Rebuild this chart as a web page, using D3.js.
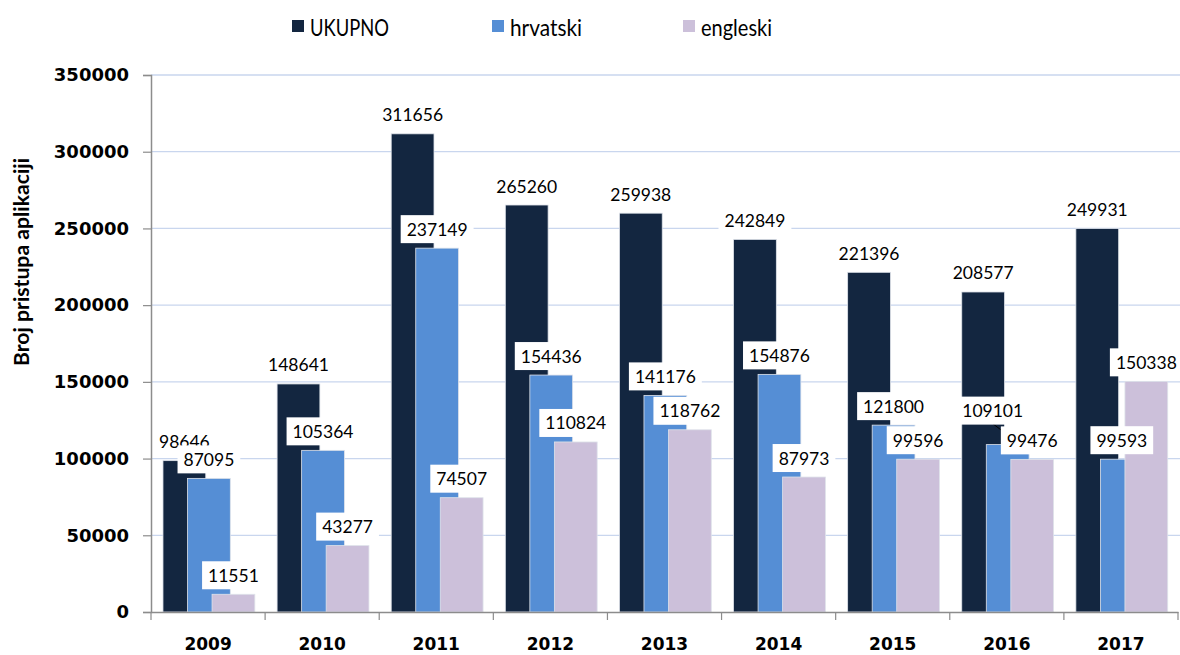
<!DOCTYPE html>
<html>
<head>
<meta charset="utf-8">
<script src="https://cdn.jsdelivr.net/npm/d3@7"></script>
<style>
  body { margin: 0; background: #fff; }
  svg { display: block; }
</style>
</head>
<body>
<div id="chart"></div>
<script>
const years = ["2009", "2010", "2011", "2012", "2013", "2014", "2015", "2016", "2017"];
const seriesNames = ["UKUPNO", "hrvatski", "engleski"];
const ukupno = [98646, 148641, 311656, 265260, 259938, 242849, 221396, 208577, 249931];
const hrvatski = [87095, 105364, 237149, 154436, 141176, 154876, 121800, 109101, 99593];
const engleski = [11551, 43277, 74507, 110824, 118762, 87973, 99596, 99476, 150338];
const yTicks = [0, 50000, 100000, 150000, 200000, 250000, 300000, 350000];
const colors = ["#132640", "#558ed5", "#ccc0da"];

const width = 1180, height = 655;
const plot = { left: 151, right: 1178, top: 75, bottom: 612 };

const svg = d3.select("#chart").append("svg").attr("width", width).attr("height", height);

const x = d3.scaleBand().domain(years).range([plot.left, plot.right]).padding(0);
const y = d3.scaleLinear().domain([0, 350000]).range([plot.bottom, plot.top]);
const bw = x.bandwidth();
const barW = bw * 0.375;
const step = bw * 0.215;
const start = bw * 0.105;

// gridlines
svg.append("g").selectAll("line").data(yTicks.slice(1)).join("line")
  .attr("x1", plot.left).attr("x2", width)
  .attr("y1", d => y(d)).attr("y2", d => y(d))
  .attr("stroke", "#c9d6ee").attr("stroke-width", 1.3);

// bars
const series = [ukupno, hrvatski, engleski];
series.forEach((vals, s) => {
  svg.append("g").selectAll("rect").data(vals).join("rect")
    .attr("x", (d, i) => x(years[i]) + start + s * step)
    .attr("y", d => y(d))
    .attr("width", barW)
    .attr("height", d => y(0) - y(d))
    .attr("fill", colors[s])
    .attr("stroke", "#dfe3ea").attr("stroke-width", 0.8);
});

// axes
const yAxis = d3.axisLeft(y).tickValues(yTicks).tickSize(8).tickFormat(d3.format("d"));
const yg = svg.append("g").attr("transform", `translate(${plot.left},0)`).call(yAxis);
yg.select(".domain").attr("stroke", "#8c8c8c").attr("stroke-width", 1.5);
yg.selectAll(".tick line").attr("stroke", "#8c8c8c").attr("stroke-width", 1.2);
yg.selectAll(".tick text").attr("x", -22)
  .attr("font-family", "DejaVu Sans").attr("font-weight", "bold").attr("font-size", 18).attr("fill", "#000");

const xAxis = d3.axisBottom(x).tickSize(0).tickSizeOuter(0);
const xg = svg.append("g").attr("transform", `translate(0,${plot.bottom})`).call(xAxis);
xg.select(".domain").attr("stroke", "#8c8c8c").attr("stroke-width", 1.5);
xg.selectAll(".tick text").attr("y", 26)
  .attr("font-family", "DejaVu Sans").attr("font-weight", "bold").attr("font-size", 17).attr("fill", "#000");
xg.selectAll(".sep").data(years.concat(["end"])).join("line")
  .attr("x1", (d, i) => plot.left + i * bw).attr("x2", (d, i) => plot.left + i * bw)
  .attr("y1", 0).attr("y2", 8).attr("stroke", "#8c8c8c").attr("stroke-width", 1.2);

// y axis title
svg.append("text")
  .attr("transform", "translate(21,262) rotate(-90)")
  .attr("text-anchor", "middle").attr("dominant-baseline", "central")
  .attr("font-family", "Lato").attr("font-weight", "bold").attr("font-size", 20)
  .attr("textLength", 208).attr("lengthAdjust", "spacingAndGlyphs")
  .text("Broj pristupa aplikaciji");

// data labels (white boxes), later series on top
const labelShift = { "1-7": [-15, -15] };
const labels = svg.append("g");
series.forEach((vals, s) => {
  vals.forEach((v, i) => {
    const cx = x(years[i]) + start + s * step + barW / 2;
    const cy = y(v) - 19;
    const sh = labelShift[s + "-" + i] || [0, 0];
    const g = labels.append("g").attr("transform", `translate(${cx + sh[0]},${cy + sh[1]})`);
    if (sh[0] || sh[1]) {
      labels.insert("line", ":first-child")
        .attr("x1", cx + sh[0]).attr("y1", cy + sh[1] + 13)
        .attr("x2", cx + 10).attr("y2", y(v) - 2)
        .attr("stroke", "#000").attr("stroke-width", 1);
    }
    const rect = g.append("rect").attr("fill", "#fff");
    const t = g.append("text").attr("text-anchor", "middle").attr("dominant-baseline", "central")
      .attr("font-family", "Lato").attr("font-size", 17.5).attr("fill", "#000").text(v);
    const bb = t.node().getBBox();
    rect.attr("x", bb.x - 6).attr("y", -14).attr("width", bb.width + 12).attr("height", 28);
  });
});

// legend
const legendX = [292, 492, 683];
const legendW = [79, 72, 71];
const lg = svg.append("g");
seriesNames.forEach((n, s) => {
  lg.append("rect").attr("x", legendX[s]).attr("y", 20).attr("width", 12).attr("height", 12).attr("fill", colors[s]);
  lg.append("text").attr("x", legendX[s] + 18).attr("y", 27).attr("dominant-baseline", "central")
    .attr("font-family", "Lato").attr("font-size", 23).attr("fill", "#000")
    .attr("textLength", legendW[s]).attr("lengthAdjust", "spacingAndGlyphs").text(n);
});
</script>
</body>
</html>
